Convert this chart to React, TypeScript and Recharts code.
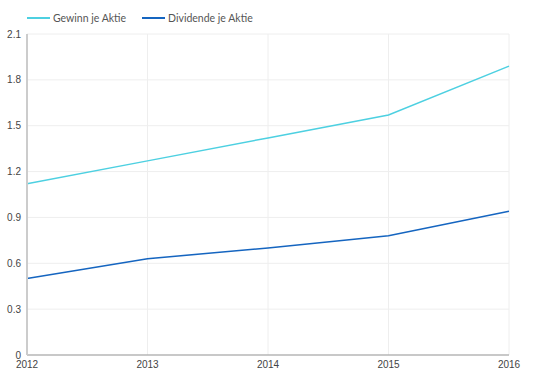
import React from "react";
import { LineChart, Line, XAxis, YAxis, CartesianGrid } from "recharts";

const years = ["2012", "2013", "2014", "2015", "2016"];
const gewinn = [1.12, 1.27, 1.42, 1.57, 1.89];
const dividende = [0.5, 0.63, 0.7, 0.78, 0.94];
const yTicks = [0, 0.3, 0.6, 0.9, 1.2, 1.5, 1.8, 2.1];

const seriesNames = ["Gewinn je Aktie", "Dividende je Aktie"];
const colors = ["#4dd0e1", "#1565c0"];

const data = years.map((y, i) => ({ year: y, g: gewinn[i], d: dividende[i] }));

const LegendBox = () => (
  <div style={{ position: "absolute", left: 27, top: 10, display: "flex", alignItems: "center", fontFamily: "Lato, sans-serif", fontSize: 10.5, color: "#555", lineHeight: "16px" }}>
    {seriesNames.map((n, i) => (
      <div key={n} style={{ display: "flex", alignItems: "center", marginRight: 16 }}>
        <div style={{ width: 23, height: 2, background: colors[i], marginRight: 3 }} />
        <span>{n}</span>
      </div>
    ))}
  </div>
);

export default function App() {
  return (
    <div style={{ position: "absolute", left: 0, top: 0, width: 539, height: 386, background: "#fff" }}>
      <LineChart width={539} height={386} data={data} margin={{ top: 34, right: 30, bottom: 0, left: 0 }}>
        <CartesianGrid stroke="#eeeeee" horizontal vertical />
        <XAxis
          dataKey="year"
          tickSize={0}
          tickMargin={6}
          height={31}
          stroke="#999"
          tick={{ fill: "#444", fontSize: 10, fontFamily: "'Liberation Sans', Arial, sans-serif" }}
        />
        <YAxis
          domain={[0, 2.1]}
          ticks={yTicks}
          width={27}
          tickSize={0}
          tickMargin={6}
          stroke="#cccccc"
          strokeWidth={2}
          tickFormatter={(v: number) => String(v)}
          tick={{ fill: "#444", fontSize: 10, fontFamily: "'Liberation Sans', Arial, sans-serif" }}
        />
        <Line type="linear" dataKey="g" name={seriesNames[0]} stroke={colors[0]} strokeWidth={1.5} dot={false} isAnimationActive={false} />
        <Line type="linear" dataKey="d" name={seriesNames[1]} stroke={colors[1]} strokeWidth={1.5} dot={false} isAnimationActive={false} />
      </LineChart>
      <LegendBox />
    </div>
  );
}
